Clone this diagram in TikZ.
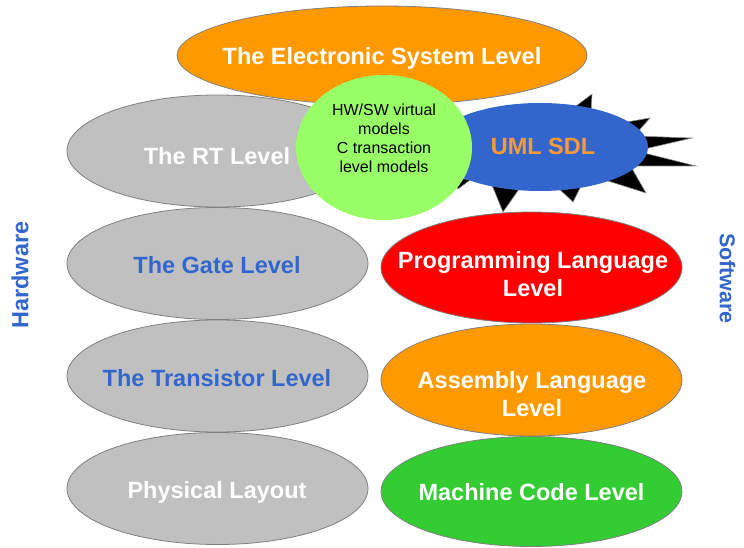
\documentclass[tikz,border=0pt]{standalone}
\usepackage{fontspec}
\setmainfont{Liberation Sans}
\usetikzlibrary{shapes.geometric}

\definecolor{hwgray}{HTML}{C0C0C0}
\definecolor{rimgray}{HTML}{808080}
\definecolor{eslorange}{HTML}{FF9900}
\definecolor{pgred}{HTML}{FF0000}
\definecolor{mcgreen}{HTML}{33CC33}
\definecolor{tlmgreen}{HTML}{99FF66}
\definecolor{umlblue}{HTML}{3366CC}
\definecolor{umltext}{HTML}{FF9933}

\begin{document}
\begin{tikzpicture}[x=1pt,y=-1pt,
  level/.style={ellipse, draw=rimgray, line width=0.8pt, inner sep=0pt,
                minimum width=301pt, minimum height=112pt},
  lbl/.style={font=\fontsize{23.5}{28}\selectfont\bfseries, align=center,
              inner sep=0pt, text height=16.8pt, text depth=0pt},
  lbltwo/.style={lbl, text height=44.8pt},
  side/.style={font=\bfseries, text=umlblue, inner sep=0pt, text depth=0pt},
  spike/.style={fill=black, draw=black!45, line width=0.6pt, line join=miter}
]
\useasboundingbox (0,0) rectangle (744,548);

% hardware column
\node[level, fill=hwgray] (rt)    at (217.5,151)   {};
\node[level, fill=hwgray] (gate)  at (217.5,263.5) {};
\node[level, fill=hwgray] (trans) at (217.5,376)   {};
\node[level, fill=hwgray] (phys)  at (217.5,488.5) {};
\node[lbl, text=white]   (rtT)    at (217,156) {The RT Level};
\node[lbl, text=umlblue] (gateT)  at (217,265) {The Gate Level};
\node[lbl, text=umlblue] (transT) at (217,378) {The Transistor Level};
\node[lbl, text=white]   (physT)  at (217,490) {Physical Layout};

% software column
\node[level, fill=pgred, minimum height=111pt]      (prog) at (531.5,267.5) {};
\node[level, fill=eslorange, minimum height=112pt]  (asm)  at (531.5,380)   {};
\node[level, fill=mcgreen, minimum height=110pt]    (mach) at (531.5,491.5) {};
\node[lbltwo, text=white] (progT) at (533,274) {Programming Language\\Level};
\node[lbltwo, text=white] (asmT)  at (532,394) {Assembly Language\\Level};
\node[lbl, text=white]    (machT) at (531.5,492) {Machine Code Level};

% system level on top
\node[level, fill=eslorange, minimum width=410pt, minimum height=99pt] (esl) at (382,55.5) {};
\node[lbl, text=white] (eslT) at (382,56) {The Electronic System Level};

% burst behind the UML/SDL ellipse
\filldraw[spike] (568,112) -- (592,94)  -- (591,112) -- cycle;
\filldraw[spike] (615,124) -- (650,118) -- (635,135) -- cycle;
\filldraw[spike] (635,136) -- (692,138) -- (640,150) -- cycle;
\filldraw[spike] (640,152) -- (696,166) -- (632,166) -- cycle;
\filldraw[spike] (630,165) -- (646,193) -- (605,180) -- cycle;
\filldraw[spike] (555,185) -- (573,202) -- (582,184) -- cycle;
\filldraw[spike] (492,185) -- (503,212) -- (522,185) -- cycle;
\filldraw[spike] (450,176) -- (458,189) -- (470,180) -- cycle;

\node[ellipse, fill=umlblue, inner sep=0pt, minimum width=216pt, minimum height=88pt] (uml) at (540,147) {};
\node[lbl, text=umltext] (umlT) at (543,146) {UML SDL};

% transaction level models bubble
\node[ellipse, fill=tlmgreen, inner sep=0pt, minimum width=176pt, minimum height=145pt] (tlm) at (384,147.5) {};
\node[font=\fontsize{16}{19}\selectfont, align=center, inner sep=0pt,
      text height=68.5pt, text depth=0pt] (tlmT) at (384,138)
  {HW/SW virtual\\models\\C transaction\\level models};

% side captions
\node[side, rotate=90, font=\fontsize{23.4}{28}\selectfont\bfseries, text height=16.75pt] (hw) at (20,275) {Hardware};
\node[side, rotate=-90, font=\fontsize{21.5}{26}\selectfont\bfseries, text height=15.4pt] (sw) at (727.5,278.5) {Software};
\end{tikzpicture}
\end{document}
